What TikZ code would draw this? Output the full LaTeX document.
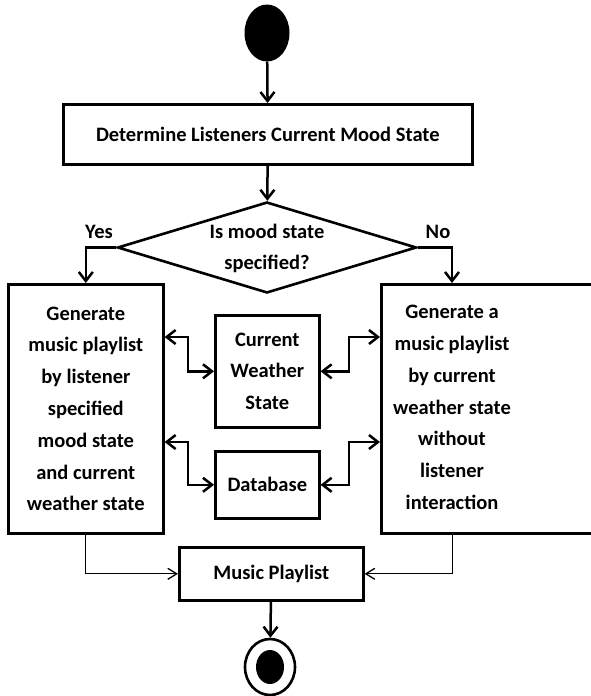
\documentclass[tikz,border=0pt]{standalone}
\usepackage{fontspec}
\setmainfont{Carlito}
\usetikzlibrary{arrows.meta,shapes.geometric}
\begin{document}
\begin{tikzpicture}[x=1pt,y=-1pt,
  txt/.style={font=\fontsize{20.5}{31.8}\selectfont\bfseries,align=center,inner sep=0pt},
  box/.style={draw,line width=2.6pt,rectangle,inner sep=0pt,anchor=north west,txt},
  arr/.style={line width=2.5pt,-{Straight Barb[length=9pt,width=14pt]}},
  dbl/.style={line width=2.5pt,{Straight Barb[length=9pt,width=14pt]}-{Straight Barb[length=9pt,width=14pt]}},
  thinarr/.style={line width=1pt,-{Straight Barb[length=9pt,width=11pt,line width=1.3pt]}},
]
\useasboundingbox (0,0) rectangle (591,696);
% start
\node[fill,ellipse,minimum width=45pt,minimum height=57pt,inner sep=0pt] (start) at (267,33) {};
% determine mood
\node[box,minimum width=409pt,minimum height=60pt] (mood) at (62,103) {Determine Listeners Current Mood State};
% decision
\node[draw,diamond,line width=2.6pt,minimum width=299pt,minimum height=91pt,inner sep=0pt] (dec) at (267,247.5) {};
\node[txt] (dectext) at (267,248.5) {Is mood state\\specified?};
\node[txt] (yes) at (99,232) {Yes};
\node[txt] (no) at (438,232) {No};
% left box
\node[box,minimum width=155pt,minimum height=249pt] (lbox) at (7,283) {Generate\\music playlist\\by listener\\specified\\mood state\\and current\\weather state};
% right box
\node[box,minimum width=230pt,minimum height=249pt] (rbox) at (380,283) {};
\node[txt] (rtext) at (452,407.5) {Generate a\\music playlist\\by current\\weather state\\without\\listener\\interaction};
% middle boxes
\node[box,minimum width=104pt,minimum height=112pt] (cws) at (214,314) {Current\\Weather\\State};
\node[box,minimum width=104pt,minimum height=67pt] (db) at (214,450) {Database};
\node[box,minimum width=184pt,minimum height=53pt] (mp) at (178,546) {Music Playlist};
% end
\node[draw,ellipse,line width=2.6pt,minimum width=50pt,minimum height=56pt,inner sep=0pt] (end) at (270,667) {};
\node[fill,ellipse,minimum width=28pt,minimum height=34pt,inner sep=0pt] (endin) at (end.center) {};
% helper coordinates
\coordinate (y1) at (0,337);
\coordinate (y2) at (0,442);
\coordinate (bl) at (188,0);
\coordinate (br) at (349,0);
% connectors
\draw[arr] (start) -- (mood);
\draw[arr] (mood) -- (dec);
\draw[arr] (dec.west) -| (lbox.north);
\draw[arr] (dec.east) -| (rtext |- rbox.north);
\draw[dbl] (lbox.east |- y1) -| (bl |- cws.west) -- (cws.west);
\draw[dbl] (cws.east) -| (br |- y1) -- (rbox.west |- y1);
\draw[dbl] (lbox.east |- y2) -| (bl |- db.west) -- (db.west);
\draw[dbl] (db.east) -| (br |- y2) -- (rbox.west |- y2);
\draw[thinarr] (lbox.south) |- (mp.west);
\draw[thinarr] (rtext |- rbox.south) |- (mp.east);
\draw[arr] (mp) -- (end);
\end{tikzpicture}
\end{document}
